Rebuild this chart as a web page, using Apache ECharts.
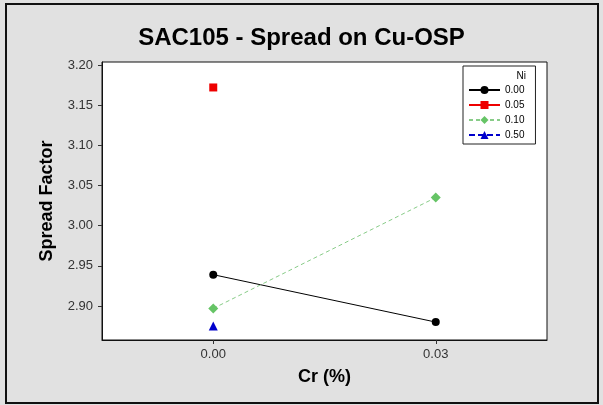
<!DOCTYPE html>
<html>
<head>
<meta charset="utf-8">
<script src="https://cdn.jsdelivr.net/npm/echarts@6/dist/echarts.min.js"></script>
<style>
  html, body { margin: 0; padding: 0; background: #e1e1e1; }
  #chart { width: 603px; height: 405px; }
</style>
</head>
<body>
<div id="chart"></div>
<script>
// Cr (%) on x, spread factor on y, one series per Ni level
var niLevels = ['0.00', '0.05', '0.10', '0.50'];
var crNi000 = [[0.00, 2.939], [0.03, 2.880]];
var crNi005 = [[0.00, 3.172]];
var crNi010 = [[0.00, 2.897], [0.03, 3.035]];
var crNi050 = [[0.00, 2.875]];
var xTicks = [0.00, 0.03];
var yTicks = [2.90, 2.95, 3.00, 3.05, 3.10, 3.15, 3.20];

var font = '"Liberation Sans", Arial, sans-serif';

var chart = echarts.init(document.getElementById('chart'));

var option = {
  backgroundColor: '#e1e1e1',
  animation: false,
  title: [{
    text: 'SAC105 - Spread on Cu-OSP',
    left: 'center',
    top: 21,
    textStyle: { fontFamily: font, fontSize: 24, fontWeight: 'bold', color: '#000' }
  }, {
    text: 'Ni',
    right: 72,
    top: 66,
    textStyle: { fontFamily: font, fontSize: 10, fontWeight: 'normal', color: '#000' }
  }],
  graphic: [{
    type: 'rect',
    shape: { x: 6, y: 4, width: 592, height: 399 },
    style: { fill: null, stroke: '#111', lineWidth: 2 },
    silent: true
  }],
  legend: {
    data: niLevels,
    orient: 'vertical',
    left: 463,
    top: 66,
    padding: [19, 11, 4, 5],
    itemWidth: 31,
    itemHeight: 10,
    itemGap: 5,
    backgroundColor: '#fff',
    borderColor: '#222',
    borderWidth: 1,
    textStyle: { fontFamily: font, fontSize: 10, color: '#000' }
  },
  grid: {
    left: 102, right: 56, top: 62, bottom: 65,
    show: true,
    backgroundColor: '#fff',
    borderColor: '#111',
    borderWidth: 1
  },
  xAxis: {
    type: 'value',
    min: -0.015,
    max: 0.045,
    name: 'Cr (%)',
    nameLocation: 'middle',
    nameGap: 28,
    nameTextStyle: { fontFamily: font, fontSize: 18, fontWeight: 'bold', color: '#000' },
    axisLine: { show: true, onZero: false, lineStyle: { color: '#111' } },
    axisTick: { show: true, customValues: xTicks, length: 4, lineStyle: { color: '#333' } },
    axisLabel: {
      customValues: xTicks,
      margin: 8,
      fontFamily: font, fontSize: 13, color: '#333',
      formatter: function (v) { return v.toFixed(2); }
    },
    splitLine: { show: false }
  },
  yAxis: {
    type: 'value',
    min: 2.8577,
    max: 3.2037,
    name: 'Spread Factor',
    nameLocation: 'middle',
    nameGap: 46,
    nameTextStyle: { fontFamily: font, fontSize: 18, fontWeight: 'bold', color: '#000' },
    axisLine: { show: true, onZero: false, lineStyle: { color: '#111' } },
    axisTick: { show: true, customValues: yTicks, length: 4, lineStyle: { color: '#333' } },
    axisLabel: {
      customValues: yTicks,
      margin: 9,
      fontFamily: font, fontSize: 13, color: '#333',
      formatter: function (v) { return v.toFixed(2); }
    },
    splitLine: { show: false }
  },
  series: [{
    name: niLevels[0],
    type: 'line',
    data: crNi000,
    symbol: 'circle',
    symbolSize: 8,
    itemStyle: { color: '#000' },
    lineStyle: { color: '#000', width: 1 }
  }, {
    name: niLevels[1],
    type: 'line',
    data: crNi005,
    symbol: 'rect',
    symbolSize: 8,
    itemStyle: { color: '#ee0000' },
    lineStyle: { color: '#ee0000', width: 1 }
  }, {
    name: niLevels[2],
    type: 'line',
    data: crNi010,
    symbol: 'diamond',
    symbolSize: 10,
    itemStyle: { color: '#66c466' },
    lineStyle: { color: '#88cc88', width: 1, type: [4, 3] }
  }, {
    name: niLevels[3],
    type: 'line',
    data: crNi050,
    symbol: 'triangle',
    symbolSize: 9,
    itemStyle: { color: '#0000cc' },
    lineStyle: { color: '#0000cc', width: 1, type: [6, 3] }
  }]
};

chart.setOption(option);
</script>
</body>
</html>
